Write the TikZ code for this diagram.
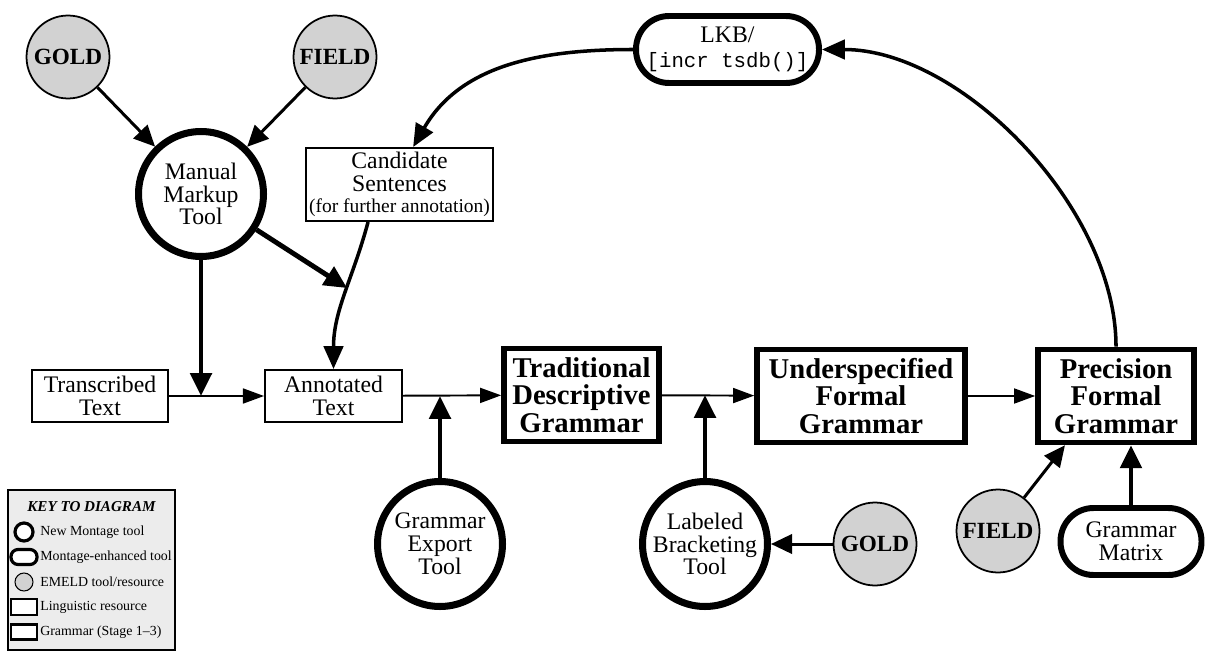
\documentclass[tikz,border=0pt]{standalone}
\usepackage{fontspec}
\setmainfont{Liberation Serif}
\setmonofont{Liberation Mono}
\usetikzlibrary{arrows.meta}

\begin{document}
\begin{tikzpicture}[x=0.02cm, y=0.02cm,
	newtool/.style={circle, draw, line width=4pt, minimum size=2.5cm, inner sep=0pt,
		align=center, font=\fontsize{13.5}{13}\selectfont},
	enhtool/.style={rectangle, draw, line width=3.4pt, rounded corners=0.66cm,
		minimum height=1.34cm, inner sep=0pt, align=center, font=\fontsize{13.5}{13}\selectfont},
	emeld/.style={circle, draw, fill=gray!35, line width=1pt, minimum size=1.66cm,
		inner sep=0pt, font=\fontsize{13.2}{13}\selectfont\bfseries},
	lingres/.style={rectangle, draw, line width=1.1pt, inner sep=0pt, align=center,
		font=\fontsize{13.5}{13}\selectfont},
	gram/.style={rectangle, draw, line width=3.2pt, minimum height=1.86cm, inner sep=0pt,
		align=center, font=\fontsize{16.3}{15.5}\selectfont\bfseries},
	flow/.style={line width=1.1pt, -{Triangle[length=12pt,width=8.5pt]}},
	feed/.style={line width=1.7pt, -{Triangle[length=12pt,width=11pt]}},
	heavy/.style={line width=2.8pt, -{Triangle[length=13pt,width=12pt]}},
	backarc/.style={line width=2pt, -{Triangle[length=13pt,width=11pt]}},
	keytxt/.style={anchor=west, inner sep=0pt, font=\fontsize{7.9}{8}\selectfont}]
			\useasboundingbox (0,0) rectangle (1212,-655);
			% sources and tools
			\node[emeld] (gold1) at (68,-57) {GOLD};
			\node[emeld] (field1) at (335,-57) {FIELD};
			\node[newtool] (mmt) at (201,-194) {Manual\\Markup\\Tool};
			\node[lingres, minimum width=3.74cm, minimum height=1.46cm] (cand) at (399.5,-184.5)
			{Candidate\\Sentences\\[-1pt]{\fontsize{11.1}{12}\selectfont(for further annotation)}};
			\node[enhtool, minimum width=3.66cm] (lkb) at (727.5,-49.5)
			{LKB/\\[1pt]{\ttfamily\fontsize{11.8}{12}\selectfont[incr tsdb()]}};
			% main line
			\node[lingres, minimum width=2.72cm, minimum height=1.04cm] (trans) at (100,-396) {Transcribed\\Text};
			\node[lingres, minimum width=2.74cm, minimum height=1.04cm] (annot) at (333.5,-396) {Annotated\\Text};
			\node[gram, minimum width=3.1cm] (tdg) at (581.5,-395) {Traditional\\Descriptive\\Grammar};
			\node[gram, minimum width=4.16cm] (ufg) at (861,-396) {Underspecified\\Formal\\Grammar};
			\node[gram, minimum width=3.12cm] (pfg) at (1116,-396) {Precision\\Formal\\Grammar};
			% lower tools
			\node[newtool] (get) at (440,-544) {Grammar\\Export\\Tool};
			\node[newtool] (lbt) at (705,-544) {Labeled\\Bracketing\\Tool};
			\node[emeld] (gold2) at (875,-544) {GOLD};
			\node[emeld] (field2) at (998,-531) {FIELD};
			\node[enhtool, minimum width=2.82cm] (gmx) at (1131,-541.5) {Grammar\\Matrix};
			% junctions
			\coordinate (j1) at (mmt.south |- trans.east);
			\coordinate (j2) at (get.north |- annot.east);
			\coordinate (j3) at (lbt.north |- tdg.east);
			% connectors
			\draw[feed] (gold1) -- (mmt);
			\draw[feed] (field1) -- (mmt);
			\draw[flow] (trans) -- (annot);
			\draw[heavy] (mmt) -- (j1);
			\draw[flow] (annot) -- (tdg);
			\draw[heavy] (get) -- (j2);
			\draw[flow] (tdg) -- (ufg);
			\draw[heavy] (lbt) -- (j3);
			\draw[feed] (gold2) -- (lbt);
			\draw[flow] (ufg) -- (pfg);
			\draw[feed] (field2) -- (pfg.224);
			\draw[heavy] (gmx.north) -- (gmx.north |- pfg.south);
			\draw[backarc] (cand.230) to[out=-105, in=90] coordinate[pos=0.45] (cmid) (annot.north);
			\draw[heavy] (mmt) -- (cmid);
			\draw[backarc] (pfg.north) to[out=90, in=0, looseness=0.85] (lkb.east);
			\draw[backarc] (lkb.west) to[out=180, in=60] (cand.70);
			% key
			\node[draw, fill=gray!15, line width=0.6pt, minimum width=3.34cm, minimum height=3.2cm] (key) at (91.5,-570) {};
			\node[font=\fontsize{8.6}{9}\selectfont\bfseries\itshape] (keyttl) at (91.5,-507) {KEY TO DIAGRAM};
			\node[circle, draw, fill=white, line width=1.8pt, minimum size=0.36cm] (k1) at (24,-532) {};
			\node[keytxt] (t1) at (40,-532) {New Montage tool};
			\node[draw, fill=white, line width=1.8pt, rounded corners=0.14cm, minimum width=0.52cm, minimum height=0.3cm] (k2) at (24,-557) {};
			\node[keytxt] (t2) at (40,-557) {Montage-enhanced tool};
			\node[circle, draw, fill=gray!35, line width=0.6pt, minimum size=0.36cm] (k3) at (24,-582) {};
			\node[keytxt] (t3) at (40,-582) {EMELD tool/resource};
			\node[draw, fill=white, line width=0.6pt, minimum width=0.52cm, minimum height=0.32cm] (k4) at (24,-607) {};
			\node[keytxt] (t4) at (40,-607) {Linguistic resource};
			\node[draw, fill=white, line width=1.6pt, minimum width=0.52cm, minimum height=0.3cm] (k5) at (24,-632) {};
			\node[keytxt] (t5) at (40,-632) {Grammar (Stage 1--3)};
\end{tikzpicture}
\end{document}
